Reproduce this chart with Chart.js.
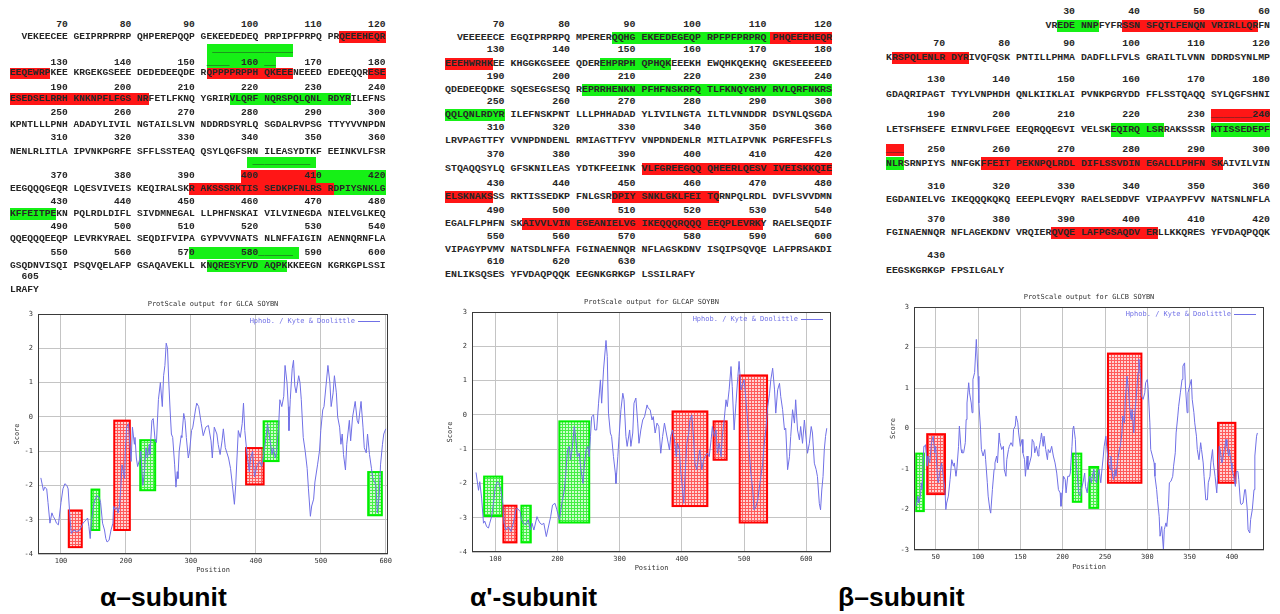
<!DOCTYPE html>
<html>
<head>
<meta charset="utf-8">
<title>Glycinin subunit hydropathy</title>
<script src="https://cdn.jsdelivr.net/npm/chart.js@4.4.1/dist/chart.umd.min.js"></script>
<style>
  body { margin: 0; width: 1280px; height: 614px; background: #fff; position: relative; overflow: hidden; }
  .seq { position: absolute; white-space: pre; font-family: "Liberation Mono", "Courier New", monospace; font-weight: bold; color: #262626; line-height: 12px; }
  .hl { position: absolute; }
  canvas { position: absolute; }
  .cap { position: absolute; top: 582px; font-family: "Liberation Sans", Arial, sans-serif; font-weight: bold; font-size: 26.5px; color: #000; }
</style>
</head>
<body>
<canvas id="chartAlpha"></canvas>
<canvas id="chartAlphaP"></canvas>
<canvas id="chartBeta"></canvas>
<div class="cap" style="left:100px">α–subunit</div>
<div class="cap" style="left:470px">α'-subunit</div>
<div class="cap" style="left:838px">β–subunit</div>
<script>
// ---- Kyte & Doolittle profiles (position, score) ----
const posAlpha = [
  69, 73, 75, 78, 80, 83, 86, 88, 91, 93,
  96, 100, 103, 106, 109, 111, 114, 116, 120, 124,
  129, 134, 139, 141, 143, 145, 147, 151, 155, 159,
  161, 164, 167, 169, 171, 174, 177, 180, 181, 183,
  186, 188, 190, 192, 194, 196, 198, 199, 201, 204,
  206, 208, 210, 213, 214, 216, 218, 221, 223, 226,
  228, 231, 233, 236, 237, 240, 242, 245, 247, 250,
  253, 256, 258, 260, 262, 264, 266, 268, 270, 272,
  275, 277, 279, 280, 282, 285, 286, 289, 291, 293,
  296, 298, 301, 303, 307, 309, 312, 316, 319, 323,
  327, 331, 333, 336, 340, 342, 345, 348, 350, 353,
  358, 361, 364, 367, 369, 371, 373, 376, 379, 381,
  383, 386, 390, 392, 395, 398, 402, 406, 409, 412,
  415, 418, 422, 425, 427, 430, 432, 435, 437, 440,
  443, 445, 448, 450, 451, 453, 456, 458, 460, 462,
  466, 468, 470, 473, 476, 479, 481, 484, 486, 489,
  491, 495, 498, 500, 503, 505, 508, 511, 514, 516,
  519, 521, 524, 526, 529, 531, 533, 535, 538, 540,
  544, 546, 549, 553, 556, 558, 562, 565, 567, 570,
  572, 575, 578, 580, 583, 585, 587, 590, 592, 595,
  597, 600
];
const scoreAlpha = [
  -1.78, -2.15, -2.05, -2.1, -2.5, -3.1, -2.8, -2.9, -3.0, -3.1,
  -3.15, -2.5, -2.1, -1.95, -2.0, -2.1, -3.0, -3.4, -3.3, -3.35,
  -3.3, -3.1, -3.0, -2.95, -3.2, -3.55, -3.0, -2.5, -2.3, -2.35,
  -2.5, -3.1, -3.3, -3.55, -3.65, -3.6, -3.3, -3.1, -2.6, -2.7,
  -2.65, -2.8, -2.6, -2.1, -1.4, -1.6, -1.8, -1.0, -0.3, -0.2,
  -0.8, -1.3, -0.3, -0.8, -0.6, -1.2, -1.45, -1.25, -1.0, -2.0,
  -1.7, -0.9, -1.2, -0.8, -1.1, -0.1, -0.05, -0.7, -0.75, 0.5,
  1.0, 0.3, 1.2, 1.5, 2.15, 2.0, 1.0, 0.2, -0.5, -0.6,
  -1.4, -2.05, -1.6, -1.8, -1.0, -0.55, -0.6, 0.1, -0.1, -0.6,
  -1.2, -1.0, -0.4, -0.3, 0.2, 0.4, 0.3, -0.2, -0.55, -0.3,
  -0.25, -0.7, -1.2, -0.3, -0.5, -0.8, -1.1, -0.7, -0.35, -0.9,
  -1.2, -1.5, -2.0, -2.55, -2.0, -1.2, -0.4, -0.6, -0.2, 0.4,
  -0.4, -1.0, -1.6, -1.2, -1.0, -1.75, -1.4, -1.3, -1.45, -1.1,
  -0.7, -0.2, -0.7, -1.1, -0.9, -1.2, -1.0, -0.3, 0.5, 0.3,
  0.6, 1.5, 1.0, 0.3, -0.4, 0.5, 1.4, 1.65, 0.9, 0.7,
  1.2, 1.0, 0.5, -0.6, -1.0, -1.5, -2.1, -2.9, -2.6, -2.4,
  -1.9, -1.4, -1.0, -0.4, 0.2, 0.3, 0.9, 1.5, 1.0, 0.3,
  0.7, 1.2, 0.7, 0.0, -0.3, -0.8, -0.5, -1.1, -1.55, -0.8,
  -0.1, -0.7, 0.0, 0.45, -0.1, -0.2, 0.45, -0.3, -0.9, -1.05,
  -0.5, -1.1, -1.5, -1.8, -1.9, -2.0, -2.8, -2.3, -1.4, -0.8,
  -0.5, -0.35
];

const posAlphaP = [
  69, 73, 75, 78, 81, 83, 86, 89, 91, 94,
  97, 100, 103, 106, 109, 112, 114, 117, 121, 125,
  129, 133, 135, 140, 142, 145, 149, 153, 156, 159,
  162, 167, 169, 172, 175, 178, 182, 185, 189, 192,
  196, 199, 203, 207, 211, 213, 216, 219, 221, 224,
  227, 229, 232, 235, 237, 241, 243, 246, 249, 251,
  253, 255, 258, 260, 263, 266, 269, 271, 274, 278,
  280, 282, 285, 287, 290, 293, 294, 297, 299, 302,
  305, 307, 310, 312, 316, 318, 321, 323, 326, 329,
  331, 334, 337, 340, 344, 346, 349, 352, 354, 357,
  360, 363, 366, 369, 372, 374, 377, 380, 382, 385,
  388, 391, 393, 396, 398, 401, 403, 405, 408, 411,
  413, 416, 419, 421, 424, 427, 429, 432, 435, 437,
  441, 444, 447, 449, 452, 455, 457, 460, 463, 465,
  468, 471, 473, 476, 479, 481, 484, 487, 490, 492,
  495, 498, 500, 503, 506, 508, 511, 514, 516, 519,
  522, 524, 527, 530, 532, 535, 538, 541, 543, 546,
  549, 551, 554, 557, 559, 562, 565, 567, 570, 573,
  575, 578, 581, 583, 586, 589, 591, 594, 597, 600,
  602, 605, 608, 610, 613, 616, 618, 621, 623, 625,
  627, 629, 631, 633
];
const scoreAlphaP = [
  -1.68, -2.2, -1.95, -2.43, -3.16, -3.1, -3.26, -3.3, -3.16, -2.97,
  -2.58, -2.1, -1.95, -2.0, -2.2, -2.58, -3.16, -3.36, -3.26, -3.4,
  -3.16, -2.77, -2.72, -2.82, -3.06, -3.16, -3.2, -3.06, -3.36, -3.16,
  -3.36, -2.97, -3.06, -3.16, -3.2, -3.16, -3.55, -3.3, -2.97, -2.63,
  -2.58, -2.77, -3.06, -2.58, -2.19, -1.8, -1.02, -0.92, -1.31, -0.92,
  -0.34, -0.63, -1.22, -1.12, -1.5, -2.0, -1.5, -1.02, -0.92, -1.22,
  -0.63, -0.05, 0.0, -0.44, -0.44, 0.34, 1.02, 0.34, 1.31, 2.17,
  1.7, 0.05, -0.53, -0.63, -1.22, -1.7, -2.0, -1.22, -0.63, 0.15,
  0.63, 0.44, -0.63, -0.92, -0.44, -0.92, -0.53, 0.34, 0.49, -0.24,
  -0.83, -0.44, -0.15, -0.05, 0.29, 0.19, 0.15, -0.15, -0.05, -0.53,
  -0.24, -0.34, -1.12, -0.63, -0.24, -0.44, -0.73, -1.02, -0.63, -0.44,
  -0.73, -1.22, -0.83, -1.02, -1.6, -2.19, -2.58, -1.8, -0.83, -0.53,
  -0.15, 0.0, -0.73, -1.41, -1.6, -1.22, -1.02, -1.6, -1.31, -1.22,
  -1.12, -1.22, -0.73, -0.34, -0.63, -0.44, -1.12, -0.83, -1.22, -0.63,
  -0.15, 0.44, 0.24, 0.73, 1.41, 0.83, -0.44, 0.34, 1.12, 1.56,
  0.73, 0.92, 1.02, 0.44, -0.24, -1.02, -1.7, -2.19, -2.77, -2.68,
  -2.48, -2.19, -1.8, -1.41, -0.92, -0.44, 0.24, 0.63, 1.02, 1.36,
  0.73, 0.05, 0.73, 0.92, 0.53, 0.15, -0.44, -0.39, -1.6, -1.22,
  -0.63, 0.15, -0.24, 0.44, -0.44, -0.73, -0.34, -0.83, -0.15, -0.73,
  -1.12, -0.83, -0.34, -0.53, -1.41, -1.6, -1.8, -2.58, -2.77, -2.19,
  -1.8, -1.02, -0.63, -0.39
];

const posBeta = [
  27, 29, 30, 32, 33, 34, 36, 37, 38, 40,
  41, 43, 45, 47, 49, 50, 52, 53, 55, 57,
  59, 61, 62, 63, 65, 67, 69, 71, 72, 74,
  75, 77, 78, 80, 81, 83, 85, 86, 87, 89,
  90, 92, 93, 94, 96, 97, 98, 100, 101, 103,
  104, 106, 108, 109, 111, 112, 114, 115, 117, 119,
  120, 122, 123, 125, 126, 128, 130, 131, 133, 134,
  136, 137, 139, 141, 142, 144, 145, 147, 148, 150,
  152, 153, 155, 156, 158, 159, 161, 163, 164, 166,
  167, 169, 171, 172, 174, 175, 177, 178, 180, 182,
  183, 185, 187, 189, 191, 193, 195, 197, 198, 200,
  201, 203, 204, 206, 208, 209, 211, 212, 213, 215,
  216, 218, 219, 221, 222, 224, 226, 227, 229, 230,
  232, 234, 235, 237, 238, 240, 241, 243, 245, 246,
  248, 249, 251, 252, 254, 256, 257, 259, 260, 262,
  263, 265, 267, 268, 270, 271, 273, 274, 276, 278,
  279, 281, 282, 284, 285, 287, 289, 290, 292, 293,
  295, 297, 298, 300, 301, 303, 304, 306, 308, 309,
  311, 312, 314, 315, 317, 319, 320, 322, 323, 325,
  326, 328, 330, 331, 333, 334, 336, 337, 339, 341,
  342, 344, 345, 347, 348, 350, 352, 353, 355, 356,
  358, 359, 361, 363, 364, 366, 367, 369, 371, 372,
  374, 375, 377, 378, 380, 382, 383, 385, 386, 388,
  389, 391, 393, 394, 396, 397, 399, 400, 402, 404,
  405, 407, 408, 410, 411, 413, 415, 416, 418, 419,
  421, 422, 424, 426, 427, 429, 430
];
const scoreBeta = [
  -1.92, -1.67, -1.84, -1.67, -1.34, -1.51, -0.44, -0.44, -0.4, -0.93,
  -0.68, -0.85, -0.35, -0.19, -0.6, -0.44, -1.18, -1.34, -1.06, -0.85,
  -1.18, -1.51, -2.0, -1.84, -1.67, -1.26, -0.77, -0.93, -0.85, -1.18,
  -1.01, -0.44, 0.06, -0.52, -0.6, -0.6, -0.35, 0.22, 0.63, 1.13,
  0.88, 0.63, 0.39, 1.21, 1.38, 1.79, 2.2, 1.29, 0.63, -0.02,
  -0.52, -0.68, -0.52, -0.77, -1.34, -1.67, -2.0, -2.09, -1.51, -1.01,
  -0.85, -0.68, -0.85, -0.11, -0.35, -0.52, -0.44, -1.01, -1.18, -0.77,
  -0.52, -0.44, -0.35, -0.44, -0.02, 0.06, 0.31, 0.14, -0.11, -0.44,
  -0.27, -0.6, -0.77, -1.18, -0.68, -1.01, -0.85, -0.68, -0.27, -0.35,
  -0.6, -0.44, -0.68, -0.52, -0.27, -0.11, -0.44, -0.19, -0.52, -0.77,
  -0.52, -0.6, -0.44, -0.68, -0.85, -1.1, -1.51, -1.59, -1.92, -1.51,
  -1.18, -1.26, -1.59, -1.18, -1.18, -1.1, -0.44, -0.02, 0.06, -0.27,
  -0.85, -1.34, -1.59, -1.67, -1.51, -1.34, -1.1, -1.43, -1.59, -1.34,
  -1.18, -1.34, -1.18, -1.01, -1.26, -1.34, -1.18, -1.01, -1.34, -1.1,
  -0.68, -0.44, -0.19, -0.44, -0.85, -1.01, -0.68, -1.18, -1.26, -1.01,
  -1.18, -0.77, -0.52, -0.44, -0.11, 0.31, 0.14, 0.72, 1.29, 0.88,
  0.55, 0.22, 0.47, -0.11, 0.31, 0.8, 1.38, 1.71, 1.29, 0.8,
  0.72, 0.88, 1.13, 1.21, 0.96, 0.14, -0.52, -0.68, -0.85, -1.18,
  -1.51, -1.76, -2.17, -2.66, -2.42, -2.99, -2.5, -2.33, -2.42, -1.92,
  -1.34, -1.3, -1.18, -0.93, -0.6, -0.11, 0.31, 0.55, 0.88, 1.21,
  1.54, 1.62, 1.05, 0.39, 0.88, 1.05, 1.21, 0.72, 0.39, 0.14,
  -0.19, -0.52, -0.77, -0.35, -0.52, -0.85, -1.18, -1.76, -1.76, -1.34,
  -1.18, -0.85, -0.52, -0.85, -1.18, -1.59, -1.18, -0.44, -0.52, -0.85,
  -0.77, -0.52, -0.27, -0.44, -0.68, -0.52, -0.85, -1.01, -1.18, -1.43,
  -1.06, -1.06, -1.26, -1.84, -1.88, -1.84, -1.51, -1.51, -2.0, -2.5,
  -2.58, -2.25, -2.0, -1.51, -0.68, -0.19, -0.11
];

// boxed regions: [from, to, top score, bottom score, kind]
const regionsAlpha = [
  [112, 132, -2.73, -3.8, 'red'],
  [147, 159, -2.12, -3.3, 'green'],
  [182, 206, -0.11, -3.3, 'red'],
  [222, 245, -0.68, -2.14, 'green'],
  [385, 412, -0.91, -1.97, 'red'],
  [412, 435, -0.13, -1.29, 'green'],
  [573, 594, -1.61, -2.87, 'green']
];
const regionsAlphaP = [
  [82, 111, -1.8, -2.95, 'green'],
  [113, 134, -2.65, -3.72, 'red'],
  [142, 157, -2.65, -3.72, 'green'],
  [203, 251, -0.19, -3.14, 'green'],
  [385, 441, 0.1, -2.66, 'red'],
  [451, 472, -0.19, -1.31, 'red'],
  [493, 537, 1.15, -3.14, 'red']
];
const regionsBeta = [
  [27, 36, -0.62, -2.04, 'green'],
  [40, 61, -0.14, -1.62, 'red'],
  [212, 222, -0.62, -1.81, 'green'],
  [231.5, 242, -0.95, -1.96, 'green'],
  [253.5, 293, 1.85, -1.34, 'red'],
  [383.5, 404, 0.14, -1.34, 'red']
];

const xTicksAlpha = [100, 200, 300, 400, 500, 600];
const xTicksBeta = [50, 100, 150, 200, 250, 300, 350, 400];
const yTicksAlpha = [-4, -3, -2, -1, 0, 1, 2, 3];
const yTicksBeta = [-3, -2, -1, 0, 1, 2, 3];

// ---- sequence listings ----
function ruler(first, count, skip = 0) {
  let s = '';
  for (let k = 0; k < skip + count; k++) {
    const label = k < skip ? '' : String(first + (k - skip) * 10);
    s += label.padStart(k === 0 ? 10 : 11, ' ');
  }
  return s;
}

const seqAlpha = {
  left: 10, cw: 5.78,
  lines: [
    [25, ruler(70, 6)],
    [37, '  VEKEECEE GEIPRPRPRP QHPEREPQQP GEKEEDEDEQ PRPIPFPRPQ PRQEEEHEQR'],
    [50, ' '.repeat(35) + '_'.repeat(14)],
    [63, '       130        140        150  ____  160 __     170        180'],
    [73, 'EEQEWRPKEE KRGEKGSEEE DEDEDEEQDE RQPPPPRPPH QKEEENEEED EDEEQQRESE'],
    [88, ruler(190, 6)],
    [99, 'ESEDSELRRH KNKNPFLFGS NRFETLFKNQ YGRIRVLQRF NQRSPQLQNL RDYRILEFNS'],
    [113, ruler(250, 6)],
    [125, 'KPNTLLLPNH ADADYLIVIL NGTAILSLVN NDDRDSYRLQ SGDALRVPSG TTYYVVNPDN'],
    [138, ruler(310, 6)],
    [152, 'NENLRLITLA IPVNKPGRFE SFFLSSTEAQ QSYLQGFSRN ILEASYDTKF EEINKVLFSR'],
    [162, ' '.repeat(42) + '_'.repeat(10)],
    [176, ruler(370, 6)],
    [189, 'EEGQQQGEQR LQESVIVEIS KEQIRALSKR AKSSSRKTIS SEDKPFNLRS RDPIYSNKLG'],
    [202, ruler(430, 6)],
    [214, 'KFFEITPEKN PQLRDLDIFL SIVDMNEGAL LLPHFNSKAI VILVINEGDA NIELVGLKEQ'],
    [227, ruler(490, 6)],
    [239, 'QQEQQQEEQP LEVRKYRAEL SEQDIFVIPA GYPVVVNATS NLNFFAIGIN AENNQRNFLA'],
    [253, '       550        560        570        580______  590        600'],
    [266, 'GSQDNVISQI PSQVQELAFP GSAQAVEKLL KNQRESYFVD AQPKKKEEGN KGRKGPLSSI'],
    [277, '  605'],
    [290, 'LRAFY']
  ],
  // [top, bottom, first char, last char (exclusive), kind]
  marks: [
    [31, 43, 57, 65, 'red'],
    [44, 57, 34, 49, 'green'],
    [57, 68, 34, 46, 'green'],
    [68, 79, 0, 7, 'red'], [68, 79, 34, 49, 'red'], [68, 79, 62, 65, 'red'],
    [93, 105, 0, 24, 'red'], [93, 105, 38, 59, 'green'],
    [157, 168, 41, 53, 'green'],
    [170, 183, 40, 53, 'red'], [170, 183, 53, 65, 'green'],
    [183, 195, 31, 56, 'red'], [183, 195, 56, 65, 'green'],
    [208, 220, 0, 8, 'green'],
    [247, 259, 31, 50, 'green'],
    [260, 272, 34, 48, 'green']
  ]
};

const seqAlphaP = {
  left: 445, cw: 5.96,
  lines: [
    [25, ruler(70, 6)],
    [38, '  VEEEEECE EGQIPRPRPQ MPERERQQHG EKEEDEGEQP RPFPFPRPRQ PHQEEEHEQR'],
    [50, ruler(130, 6)],
    [64, 'EEEHWRHKEE KHGGKGSEEE QDEREHPRPH QPHQKEEEKH EWQHKQEKHQ GKESEEEEED'],
    [77, ruler(190, 6)],
    [90, 'QDEDEEQDKE SQESEGSESQ REPRRHENKN PFHFNSKRFQ TLFKNQYGHV RVLQRFNKRS'],
    [102, ruler(250, 6)],
    [115, 'QQLQNLRDYR ILEFNSKPNT LLLPHHADAD YLIVILNGTA ILTLVNNDDR DSYNLQSGDA'],
    [128, ruler(310, 6)],
    [141, 'LRVPAGTTFY VVNPDNDENL RMIAGTTFYV VNPDNDENLR MITLAIPVNK PGRFESFFLS'],
    [155, ruler(370, 6)],
    [169, 'STQAQQSYLQ GFSKNILEAS YDTKFEEINK VLFGREEGQQ QHEERLQESV IVEISKKQIE'],
    [184, ruler(430, 6)],
    [197, 'ELSKNAKSSS RKTISSEDKP FNLGSRDPIY SNKLGKLFEI TQRNPQLRDL DVFLSVVDMN'],
    [211, ruler(490, 6)],
    [224, 'EGALFLPHFN SKAIVVLVIN EGEANIELVG IKEQQQRQQQ EEQPLEVRKY RAELSEQDIF'],
    [237, ruler(550, 6)],
    [250, 'VIPAGYPVMV NATSDLNFFA FGINAENNQR NFLAGSKDNV ISQIPSQVQE LAFPRSAKDI'],
    [262, ruler(610, 3)],
    [275, 'ENLIKSQSES YFVDAQPQQK EEGNKGRKGP LSSILRAFY']
  ],
  marks: [
    [32, 44, 28, 54.5, 'green'], [32, 44, 54.5, 65, 'red'],
    [58, 70, 0, 8, 'red'], [58, 70, 26, 38, 'green'],
    [84, 96, 23, 65, 'green'],
    [109, 121, 0, 10, 'green'],
    [163, 175, 33, 65, 'red'],
    [191, 203, 0, 8, 'red'], [191, 203, 28, 46, 'red'],
    [218, 230, 13, 53.3, 'red']
  ]
};

const seqBeta = {
  left: 886, cw: 5.91,
  lines: [
    [12, ruler(30, 4, 2)],
    [26, ' '.repeat(27) + 'VREDE NNPFYFRSSN SFQTLFENQN VRIRLLQRFN'],
    [44, ruler(70, 6)],
    [58, 'KRSPQLENLR DYRIVQFQSK PNTILLPHMA DADFLLFVLS GRAILTLVNN DDRDSYNLMP'],
    [80, ruler(130, 6)],
    [95, 'GDAQRIPAGT TYYLVNPHDH QNLKIIKLAI PVNKPGRYDD FFLSSTQAQQ SYLQGFSHNI'],
    [115, '       190        200        210        220        230 _______240'],
    [130, 'LETSFHSEFE EINRVLFGEE EEQRQQEGVI VELSKEQIRQ LSRRAKSSSR KTISSEDEPF'],
    [150, '___    250        260        270        280        290        300'],
    [164, 'NLRSRNPIYS NNFGKFFEIT PEKNPQLRDL DIFLSSVDIN EGALLLPHFN SKAIVILVIN'],
    [187, ruler(310, 6)],
    [200, 'EGDANIELVG IKEQQQKQKQ EEEPLEVQRY RAELSEDDVF VIPAAYPFVV NATSNLNFLA'],
    [220, ruler(370, 6)],
    [233, 'FGINAENNQR NFLAGEKDNV VRQIERQVQE LAFPGSAQDV ERLLKKQRES YFVDAQPQQK'],
    [256, ruler(430, 1)],
    [271, 'EEGSKGRKGP FPSILGALY']
  ],
  marks: [
    [20, 32, 29, 36, 'green'], [20, 32, 40, 63, 'red'],
    [52, 64, 1, 14, 'red'],
    [109, 122, 55, 65, 'red'],
    [123, 137, 38, 47, 'green'], [123, 137, 55, 65, 'green'],
    [144, 156, 0, 3, 'red'],
    [157, 170, 0, 3, 'green'], [157, 170, 16, 57, 'red'],
    [227, 239, 28, 46, 'red']
  ]
};

const markColor = { red: '#ff1616', green: '#16f016' };

function drawSequence(panel) {
  const fontSize = panel.cw / 0.6;
  panel.marks.forEach(([top, bottom, from, to, kind]) => {
    const el = document.createElement('div');
    el.className = 'hl';
    el.style.left = (panel.left + from * panel.cw) + 'px';
    el.style.width = ((to - from) * panel.cw) + 'px';
    el.style.top = top + 'px';
    el.style.height = (bottom - top) + 'px';
    el.style.background = markColor[kind];
    document.body.appendChild(el);
  });
  panel.lines.forEach(([y, text]) => {
    const el = document.createElement('div');
    el.className = 'seq';
    el.style.left = panel.left + 'px';
    el.style.top = (y - 6) + 'px';
    el.style.fontSize = fontSize + 'px';
    el.textContent = text;
    document.body.appendChild(el);
  });
}

[seqAlpha, seqAlphaP, seqBeta].forEach(drawSequence);

// ---- hydropathy plots ----
const lineColor = '#7070e6';
const gridColor = '#c4c4c4';
const smallFont = { family: '"DejaVu Sans Mono", monospace', size: 7 };

function tile(lineCol, fillCol) {
  const c = document.createElement('canvas');
  c.width = 3; c.height = 3;
  const g = c.getContext('2d');
  g.fillStyle = fillCol; g.fillRect(0, 0, 3, 3);
  g.fillStyle = lineCol; g.fillRect(0, 0, 3, 1); g.fillRect(0, 0, 1, 3);
  return c;
}
const regionStyle = {
  red: { edge: '#ff0000', tile: tile('#ff5a5a', '#ffd2d2') },
  green: { edge: '#00f000', tile: tile('#46ee46', '#ccffcc') }
};

function decorations(title, regions) {
  return {
    id: 'decor',
    beforeDatasetsDraw(chart) {
      const { ctx, scales: { x, y } } = chart;
      ctx.save();
      regions.forEach(([a, b, top, bottom, kind]) => {
        const st = regionStyle[kind];
        const x0 = x.getPixelForValue(a), x1 = x.getPixelForValue(b);
        const y0 = y.getPixelForValue(top), y1 = y.getPixelForValue(bottom);
        ctx.fillStyle = ctx.createPattern(st.tile, 'repeat');
        ctx.fillRect(x0, y0, x1 - x0, y1 - y0);
        ctx.strokeStyle = st.edge;
        ctx.lineWidth = 2;
        ctx.strokeRect(x0, y0, x1 - x0, y1 - y0);
      });
      ctx.restore();
    },
    afterDatasetsDraw(chart) {
      const { ctx, chartArea: a } = chart;
      ctx.save();
      ctx.strokeStyle = '#3a3a3a';
      ctx.lineWidth = 1;
      ctx.strokeRect(a.left + 0.5, a.top + 0.5, a.right - a.left - 1, a.bottom - a.top - 1);

      ctx.font = '7px "DejaVu Sans Mono", monospace';
      ctx.textBaseline = 'middle';
      ctx.fillStyle = '#333';
      ctx.textAlign = 'center';
      ctx.fillText(title, (a.left + a.right) / 2, a.top - 10);

      // legend: label followed by a line sample
      ctx.fillStyle = lineColor;
      ctx.textAlign = 'right';
      ctx.fillText('Hphob. / Kyte & Doolittle', a.right - 33, a.top + 7);
      ctx.strokeStyle = lineColor;
      ctx.beginPath();
      ctx.moveTo(a.right - 30, a.top + 7.5);
      ctx.lineTo(a.right - 8, a.top + 7.5);
      ctx.stroke();
      ctx.restore();
    }
  };
}

function buildChart(id, frame, xs, ys, xRange, xTicks, yRange, yTicks, regions, title) {
  const canvas = document.getElementById(id);
  canvas.width = frame.width;
  canvas.height = frame.height;
  canvas.style.left = frame.left + 'px';
  canvas.style.top = frame.top + 'px';
  const [plotLeft, plotRight, plotTop, plotBottom] = frame.plot;
  const half = smallFont.size * 1.2 / 2;

  new Chart(canvas, {
    type: 'line',
    data: {
      datasets: [{
        data: xs.map((x, i) => ({ x, y: ys[i] })),
        borderColor: lineColor,
        borderWidth: 1,
        pointRadius: 0,
        tension: 0,
        fill: false
      }]
    },
    options: {
      responsive: false,
      animation: false,
      events: [],
      layout: {
        padding: { left: 0, top: plotTop - frame.top, right: frame.left + frame.width - plotRight, bottom: 0 }
      },
      plugins: { legend: { display: false }, tooltip: { enabled: false } },
      scales: {
        x: {
          type: 'linear',
          min: xRange[0],
          max: xRange[1],
          afterFit: s => { s.height = frame.top + frame.height - plotBottom; },
          afterBuildTicks: s => { s.ticks = xTicks.map(v => ({ value: v })); },
          grid: { color: gridColor, drawTicks: false },
          border: { display: false },
          ticks: { font: smallFont, color: '#333', padding: 3, maxRotation: 0, autoSkip: false },
          title: {
            display: true, text: 'Position', font: smallFont, color: '#333',
            padding: { top: 0, bottom: frame.top + frame.height - frame.posY - half }
          }
        },
        y: {
          type: 'linear',
          min: yRange[0],
          max: yRange[1],
          afterFit: s => { s.width = plotLeft - frame.left; },
          afterBuildTicks: s => { s.ticks = yTicks.map(v => ({ value: v })); },
          grid: { color: gridColor, drawTicks: false },
          border: { display: false },
          ticks: { font: smallFont, color: '#333', padding: 5, autoSkip: false },
          title: {
            display: true, text: 'Score', font: smallFont, color: '#333',
            padding: { top: frame.scoreX - frame.left - half, bottom: 0 }
          }
        }
      }
    },
    plugins: [decorations(title, regions)]
  });
}

buildChart('chartAlpha',
  { left: 0, top: 292, width: 420, height: 284, plot: [38, 388, 314, 554], scoreX: 17, posY: 570 },
  posAlpha, scoreAlpha, [64.6, 603.5], xTicksAlpha, [-4, 3], yTicksAlpha, regionsAlpha,
  'ProtScale output for GLCA SOYBN');

buildChart('chartAlphaP',
  { left: 430, top: 292, width: 420, height: 284, plot: [472, 831, 312, 552], scoreX: 450, posY: 568 },
  posAlphaP, scoreAlphaP, [62.5, 639.8], xTicksAlpha, [-4, 3], yTicksAlpha, regionsAlphaP,
  'ProtScale output for GLCAP SOYBN');

buildChart('chartBeta',
  { left: 850, top: 285, width: 430, height: 290, plot: [914, 1264, 307, 550], scoreX: 893, posY: 567 },
  posBeta, scoreBeta, [24.4, 437.8], xTicksBeta, [-3, 3], yTicksBeta, regionsBeta,
  'ProtScale output for GLCB SOYBN');
</script>
</body>
</html>
